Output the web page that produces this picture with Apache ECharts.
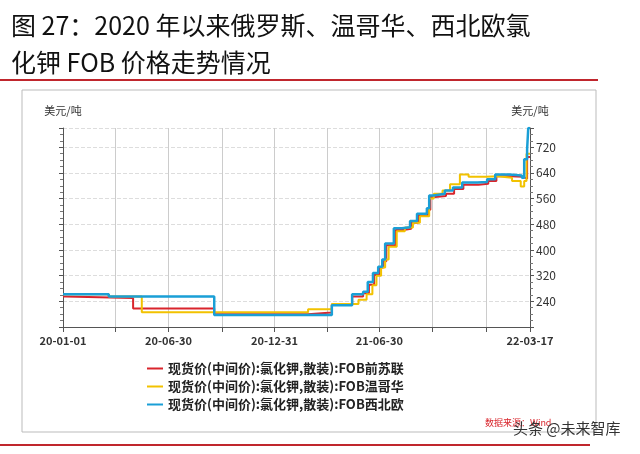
<!DOCTYPE html>
<html>
<head>
<meta charset="utf-8">
<script src="https://cdn.jsdelivr.net/npm/echarts@6/dist/echarts.min.js"></script>
<style>body{margin:0;background:#fff}</style>
</head>
<body>
<div id="main" style="width:640px;height:454px;"></div>
<script>
// x = days since 2020-01-01
var tickDays = [0, 91, 182, 274, 365, 456, 546, 638, 730, 806];
var labelDays = [0, 182, 365, 546, 806];
var labelText = {0: '20-01-01', 182: '20-06-30', 365: '20-12-31', 546: '21-06-30', 806: '22-03-17'};

var redDays = [0, 4, 121, 261, 423, 464, 499, 518, 528, 537, 546, 553, 558, 574, 587, 601, 613, 630, 634, 642, 661, 675, 691, 717, 734, 748, 773, 794, 801, 806];
var redVals = [255, 250, 218, 200, 205, 230, 255, 265, 292, 322, 345, 365, 415, 462, 466, 485, 508, 525, 565, 568, 575, 590, 603, 606, 615, 630, 628, 622, 690, 690];

var yellowDays = [0, 79, 136, 423, 464, 510, 524, 534, 541, 549, 556, 562, 576, 590, 604, 616, 632, 640, 655, 668, 685, 700, 730, 750, 775, 790, 796, 800, 806];
var yellowVals = [262, 255, 206, 215, 232, 245, 262, 290, 320, 345, 370, 410, 458, 470, 485, 505, 560, 575, 585, 605, 635, 628, 630, 625, 615, 598, 615, 700, 700];

var blueDays = [0, 79, 261, 464, 499, 518, 526, 535, 544, 551, 556, 571, 585, 599, 611, 628, 632, 640, 659, 673, 689, 715, 732, 746, 771, 792, 796, 801, 803, 806];
var blueVals = [262, 255, 197, 228, 262, 270, 300, 328, 348, 370, 420, 468, 471, 490, 513, 530, 570, 575, 585, 595, 610, 612, 620, 635, 632, 625, 683, 713, 780, 780];

var names = ['现货价(中间价):氯化钾,散装):FOB前苏联', '现货价(中间价):氯化钾,散装):FOB温哥华', '现货价(中间价):氯化钾,散装):FOB西北欧'];
var colors = ['#d9252c', '#f2c200', '#1a9fd6'];

function pairs(d, v) { return d.map(function (x, i) { return [x, v[i]]; }); }

var chart = echarts.init(document.getElementById('main'));
var font = '"Noto Sans CJK SC", sans-serif';
var yCommon = {
    type: 'value', min: 160, max: 780, interval: 80,
    axisLine: {show: true, lineStyle: {color: '#555'}},
    axisTick: {show: true, length: 4, lineStyle: {color: '#555'}},
    minorTick: {show: true, splitNumber: 4, length: 3, lineStyle: {color: '#777'}},
    nameTextStyle: {color: '#333', fontSize: 11, fontFamily: font},
    nameGap: 12
};
chart.setOption({
    animation: false,
    textStyle: {fontFamily: font},
    title: {
        text: '图 27：2020 年以来俄罗斯、温哥华、西北欧氯\n化钾 FOB 价格走势情况',
        left: 6, top: 2,
        textStyle: {fontSize: 25, fontWeight: 'normal', color: '#111', lineHeight: 37, fontFamily: '"Noto Sans CJK SC", serif'}
    },
    grid: {left: 63, right: 110, top: 128, bottom: 127},
    legend: {
        orient: 'vertical', left: 142, top: 357, itemGap: 5, itemWidth: 16, itemHeight: 2,
        icon: 'rect',
        textStyle: {fontSize: 13, fontWeight: 'bold', color: '#222'},
        data: names
    },
    xAxis: {
        type: 'value', min: 0, max: 806,
        axisLine: {lineStyle: {color: '#555'}},
        axisTick: {customValues: tickDays, length: 5, lineStyle: {color: '#555'}},
        axisLabel: {customValues: labelDays, formatter: function (v) { return labelText[v] || ''; }, color: '#333', fontSize: 11, fontWeight: 'bold'},
        splitLine: {show: true, lineStyle: {color: '#ccc'}}
    },
    yAxis: [
        Object.assign({}, yCommon, {position: 'left', name: '美元/吨', nameLocation: 'end',
            axisLabel: {show: false}, splitLine: {show: true, lineStyle: {color: '#ddd', type: 'dashed'}}}),
        Object.assign({}, yCommon, {position: 'right', name: '美元/吨', nameLocation: 'end',
            axisLabel: {color: '#333', fontSize: 12, margin: 6, formatter: function (v) { return (v === 160 || v === 780) ? '' : v; }},
            splitLine: {show: false}})
    ],
    series: [
        {name: names[0], type: 'line', step: 'end', showSymbol: false, data: pairs(redDays, redVals), lineStyle: {width: 2, color: colors[0]}, itemStyle: {color: colors[0]}},
        {name: names[1], type: 'line', step: 'end', showSymbol: false, data: pairs(yellowDays, yellowVals), lineStyle: {width: 2, color: colors[1]}, itemStyle: {color: colors[1]}},
        {name: names[2], type: 'line', step: 'end', showSymbol: false, data: pairs(blueDays, blueVals), lineStyle: {width: 2.5, color: colors[2]}, itemStyle: {color: colors[2]}}
    ],
    graphic: [
        {type: 'line', shape: {x1: 0, y1: 80, x2: 598, y2: 80}, style: {stroke: '#c0262d', lineWidth: 2}},
        {type: 'rect', shape: {x: 22, y: 90, width: 574, height: 342}, style: {fill: 'none', stroke: '#bbb', lineWidth: 1}},
        {type: 'line', shape: {x1: 0, y1: 445, x2: 590, y2: 445}, style: {stroke: '#c0262d', lineWidth: 2}},
        {type: 'text', left: 485, top: 418, style: {text: '数据来源：Wind', fill: '#d9252c', font: '9px "Noto Sans CJK SC"'}},
        {type: 'text', left: 513, top: 421, style: {text: '头条 @未来智库', fill: '#333', font: '15px "Noto Sans CJK SC"'}}
    ]
});
</script>
</body>
</html>
